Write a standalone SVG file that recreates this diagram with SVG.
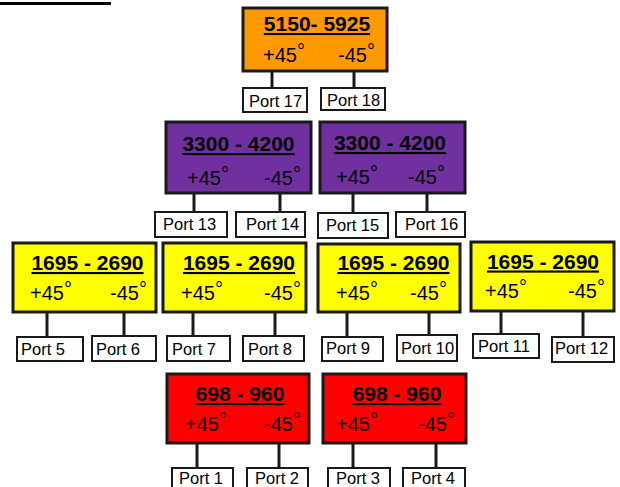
<svg xmlns="http://www.w3.org/2000/svg" width="620" height="487" viewBox="0 0 620 487">
<style>
.box{stroke:#1a1a1a;stroke-width:3}
.orange{fill:#FF9900}.purple{fill:#7030A0}.yellow{fill:#FFFF00}.red{fill:#FF0000}
.port{fill:#fff;stroke:#1a1a1a;stroke-width:2}
.title{font-family:"Liberation Sans",Arial,sans-serif;font-weight:bold;font-size:21px;text-decoration:underline;text-anchor:middle;fill:#000}
.pol{font-family:"Liberation Sans",Arial,sans-serif;font-size:20px;fill:#000}
.pt{font-family:"Liberation Sans",Arial,sans-serif;font-size:16.5px;fill:#000}
.conn line{stroke:#1a1a1a;stroke-width:3}
</style>
<rect width="620" height="487" fill="#fff"/>
<line x1="0" y1="3.5" x2="111" y2="3.5" stroke="#000" stroke-width="3"/>

<g class="conn" id="connectors">
<line x1="272" y1="71" x2="272" y2="88"/><line x1="354" y1="71" x2="354" y2="88"/>
<line x1="194" y1="193" x2="194" y2="212"/><line x1="280" y1="193" x2="280" y2="212"/>
<line x1="353" y1="193" x2="353" y2="213"/><line x1="427" y1="193" x2="427" y2="212"/>
<line x1="47" y1="312" x2="47" y2="337"/><line x1="124" y1="312" x2="124" y2="336"/>
<line x1="193" y1="312" x2="193" y2="336"/><line x1="275" y1="312" x2="275" y2="336"/>
<line x1="347" y1="312" x2="347" y2="337"/><line x1="429" y1="312" x2="429" y2="335"/>
<line x1="501" y1="311" x2="501" y2="334"/><line x1="583" y1="311" x2="583" y2="337"/>
<line x1="197" y1="443" x2="197" y2="468"/><line x1="279" y1="443" x2="279" y2="468"/>
<line x1="353" y1="443" x2="353" y2="468"/><line x1="436" y1="443" x2="436" y2="468"/>
</g>

<g id="node-5150">
<rect class="box orange" x="243" y="8" width="144" height="63"/>
<text class="title" x="317" y="31">5150- 5925</text>
<text class="pol" x="263" y="62">+45<tspan dy="-4">°</tspan></text>
<text class="pol" x="338" y="62">-45<tspan dy="-4">°</tspan></text>
</g>
<g id="node-3300a">
<rect class="box purple" x="166" y="122" width="145" height="71"/>
<text class="title" x="238.5" y="151">3300 - 4200</text>
<text class="pol" x="187" y="185">+45<tspan dy="-4">°</tspan></text>
<text class="pol" x="264" y="185">-45<tspan dy="-4">°</tspan></text>
</g>
<g id="node-3300b">
<rect class="box purple" x="320" y="122" width="145" height="71"/>
<text class="title" x="390" y="150">3300 - 4200</text>
<text class="pol" x="336" y="184">+45<tspan dy="-4">°</tspan></text>
<text class="pol" x="408" y="184">-45<tspan dy="-4">°</tspan></text>
</g>
<g id="node-1695a">
<rect class="box yellow" x="13" y="243" width="143" height="69"/>
<text class="title" x="87.5" y="270">1695 - 2690</text>
<text class="pol" x="30" y="300">+45<tspan dy="-4">°</tspan></text>
<text class="pol" x="110" y="300">-45<tspan dy="-4">°</tspan></text>
</g>
<g id="node-1695b">
<rect class="box yellow" x="163" y="243" width="143" height="69"/>
<text class="title" x="239" y="270">1695 - 2690</text>
<text class="pol" x="181" y="300">+45<tspan dy="-4">°</tspan></text>
<text class="pol" x="264" y="300">-45<tspan dy="-4">°</tspan></text>
</g>
<g id="node-1695c">
<rect class="box yellow" x="318" y="244" width="142" height="68"/>
<text class="title" x="393.5" y="270">1695 - 2690</text>
<text class="pol" x="336" y="300">+45<tspan dy="-4">°</tspan></text>
<text class="pol" x="410" y="300">-45<tspan dy="-4">°</tspan></text>
</g>
<g id="node-1695d">
<rect class="box yellow" x="471" y="242" width="143" height="69"/>
<text class="title" x="543" y="268.5">1695 - 2690</text>
<text class="pol" x="485" y="298">+45<tspan dy="-4">°</tspan></text>
<text class="pol" x="568" y="298">-45<tspan dy="-4">°</tspan></text>
</g>
<g id="node-698a">
<rect class="box red" x="167" y="374" width="142" height="69"/>
<text class="title" x="240" y="401">698 - 960</text>
<text class="pol" x="185" y="431">+45<tspan dy="-4">°</tspan></text>
<text class="pol" x="264" y="431">-45<tspan dy="-4">°</tspan></text>
</g>
<g id="node-698b">
<rect class="box red" x="323" y="374" width="143" height="69"/>
<text class="title" x="397" y="401">698 - 960</text>
<text class="pol" x="336" y="431">+45<tspan dy="-4">°</tspan></text>
<text class="pol" x="418" y="431">-45<tspan dy="-4">°</tspan></text>
</g>

<g id="port17"><rect class="port" x="243" y="88" width="64" height="24"/><text class="pt" x="249" y="107">Port 17</text></g>
<g id="port18"><rect class="port" x="321" y="88" width="64" height="22"/><text class="pt" x="327" y="106">Port 18</text></g>
<g id="port13"><rect class="port" x="155" y="212" width="72" height="25"/><text class="pt" x="163" y="230">Port 13</text></g>
<g id="port14"><rect class="port" x="236" y="212" width="69" height="25"/><text class="pt" x="246" y="230">Port 14</text></g>
<g id="port15"><rect class="port" x="318" y="213" width="70" height="25"/><text class="pt" x="326" y="231">Port 15</text></g>
<g id="port16"><rect class="port" x="396" y="212" width="69" height="25"/><text class="pt" x="405" y="230">Port 16</text></g>
<g id="port5"><rect class="port" x="17" y="337" width="66" height="24"/><text class="pt" x="21" y="355">Port 5</text></g>
<g id="port6"><rect class="port" x="92" y="336" width="64" height="25"/><text class="pt" x="96" y="355">Port 6</text></g>
<g id="port7"><rect class="port" x="167" y="336" width="63" height="25"/><text class="pt" x="172" y="355">Port 7</text></g>
<g id="port8"><rect class="port" x="243" y="336" width="61" height="25"/><text class="pt" x="248" y="355">Port 8</text></g>
<g id="port9"><rect class="port" x="322" y="337" width="61" height="24"/><text class="pt" x="326" y="354">Port 9</text></g>
<g id="port10"><rect class="port" x="397" y="335" width="60" height="26"/><text class="pt" x="401" y="354">Port 10</text></g>
<g id="port11"><rect class="port" x="473" y="334" width="66" height="24"/><text class="pt" x="478" y="352">Port 11</text></g>
<g id="port12"><rect class="port" x="552" y="337" width="62" height="25"/><text class="pt" x="555" y="354">Port 12</text></g>
<g id="port1"><rect class="port" x="172" y="468" width="61" height="24"/><text class="pt" x="179" y="484">Port 1</text></g>
<g id="port2"><rect class="port" x="247" y="468" width="61" height="24"/><text class="pt" x="255" y="484">Port 2</text></g>
<g id="port3"><rect class="port" x="328" y="468" width="62" height="24"/><text class="pt" x="336" y="484">Port 3</text></g>
<g id="port4"><rect class="port" x="403" y="468" width="62" height="24"/><text class="pt" x="411" y="484">Port 4</text></g>
</svg>
